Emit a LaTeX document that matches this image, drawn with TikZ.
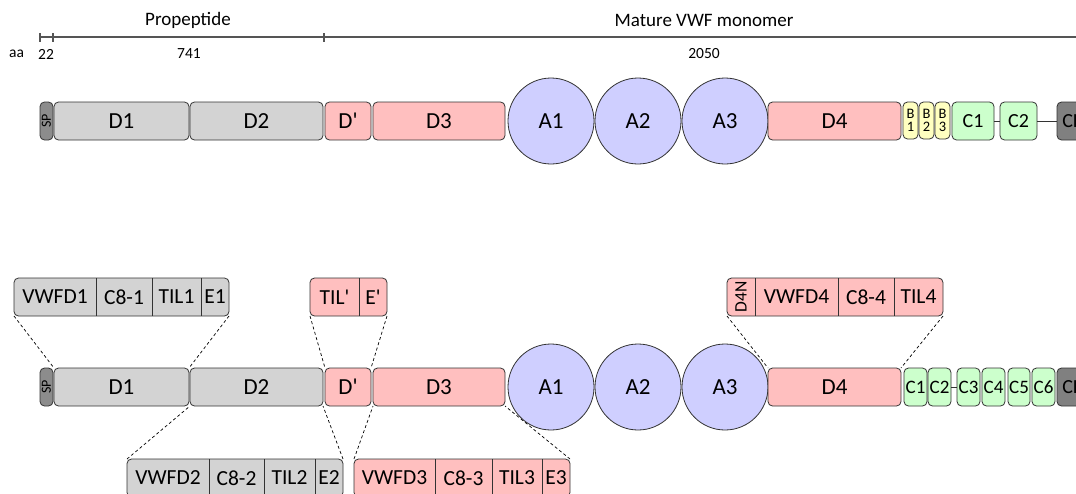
\documentclass[tikz,border=0pt]{standalone}
\usepackage{fontspec}
\setmainfont{Carlito}
\newfontfamily\plainf{Carlito}
\definecolor{grayd}{HTML}{D3D3D3}
\definecolor{pinkd}{HTML}{FFBFBF}
\definecolor{bluea}{HTML}{CFCFFF}
\definecolor{yelb}{HTML}{FFFFC0}
\definecolor{grc}{HTML}{CCFFCC}
\definecolor{spg}{HTML}{8C8C8C}
\definecolor{ckg}{HTML}{808080}
\definecolor{edge}{HTML}{333333}
\definecolor{scaleg}{HTML}{555555}
\tikzset{
  dom/.style={draw=edge, line width=0.8pt, rounded corners=4.5pt, minimum height=38pt,
    inner sep=0pt, outer sep=0pt, font=\fontsize{23}{23}\selectfont},
  adom/.style={draw=edge, line width=0.8pt, circle, fill=bluea, minimum size=86pt,
    inner sep=0pt, outer sep=0pt, font=\fontsize{23}{23}\selectfont},
  cell/.style={minimum height=38pt, inner sep=0pt, outer sep=0pt, font=\fontsize{21.5}{21.5}\selectfont},
  outerbox/.style={draw=edge, line width=0.8pt, rounded corners=4.5pt, minimum height=38pt,
    inner sep=0pt, outer sep=0pt},
  divider/.style={draw=edge, line width=0.8pt},
  conn/.style={line width=0.7pt, dash pattern=on 3pt off 2.5pt},
  link/.style={draw=edge, line width=0.8pt},
  cfont/.style={font=\fontsize{20}{20}\selectfont},
  csmall/.style={font=\fontsize{19}{19}\selectfont},
  bfont/.style={font=\fontsize{14.5}{13}\selectfont, align=center},
  num/.style={font=\fontsize{15.5}{15.5}\selectfont, inner sep=0pt},
  title/.style={font=\fontsize{19}{19}\selectfont, inner sep=0pt},
  scaleline/.style={draw=scaleg, line width=1.1pt}
}
\begin{document}
\begin{tikzpicture}[x=1pt,y=-1pt]
\useasboundingbox (0,0) rectangle (1076,493);
% ---------- scale bar ----------
\coordinate (s0) at (40,37);
\coordinate (s1) at (53,37);
\coordinate (s2) at (324,37);
\coordinate (s3) at (1076,37);
\draw[scaleline] (s0) -- (s3);
\draw[scaleline] ([yshift=-4.5pt]s0) -- ([yshift=4.5pt]s0);
\draw[scaleline] ([yshift=-4.5pt]s1) -- ([yshift=4.5pt]s1);
\draw[scaleline] ([yshift=-4.5pt]s2) -- ([yshift=4.5pt]s2);
\node[title] (tprop) at (188,20) {Propeptide};
\node[title] (tmat) at (704,20) {Mature VWF monomer};
\node[num] (taa) at (16.5,54) {aa};
\node[num] (t22) at (46,54) {22};
\node[num] (t741) at (189,54) {741};
\node[num] (t2050) at (704,54) {2050};
% ---------- top row ----------
\node[dom, fill=spg, minimum width=13pt] (SPa) at (46.5,121) {\rotatebox{90}{\fontsize{14}{14}\selectfont SP}};
\node[dom, fill=grayd, minimum width=135pt] (D1a) at (121.5,121) {D1};
\node[dom, fill=grayd, minimum width=133pt] (D2a) at (256.5,121) {D2};
\node[dom, fill=pinkd, minimum width=46pt] (Dpa) at (348,121) {\plainf D'};
\node[dom, fill=pinkd, minimum width=132pt] (D3a) at (439,121) {D3};
\node[adom] (A1a) at (551,121) {A1};
\node[adom] (A2a) at (638,121) {A2};
\node[adom] (A3a) at (725,121) {A3};
\node[dom, fill=pinkd, minimum width=133pt] (D4a) at (834.5,121) {D4};
\node[dom, fill=yelb, minimum width=15pt, minimum height=37pt, bfont] (B1a) at (910.5,120.5) {B\\1};
\node[dom, fill=yelb, minimum width=15pt, minimum height=37pt, bfont] (B2a) at (926.5,120.5) {B\\2};
\node[dom, fill=yelb, minimum width=15pt, minimum height=37pt, bfont] (B3a) at (942.5,120.5) {B\\3};
\node[dom, fill=grc, minimum width=42pt, cfont] (C1a) at (973,121) {C1};
\node[dom, fill=grc, minimum width=37pt, cfont] (C2a) at (1018.5,121) {C2};
\node[dom, fill=ckg, minimum width=32pt, cfont] (CKa) at (1073,121) {CK};
\draw[link] (C1a.east) -- (C2a.west);
\draw[link] (C2a.east) -- (CKa.west);
% ---------- bottom row ----------
\node[dom, fill=spg, minimum width=13pt] (SPb) at (46.5,387) {\rotatebox{90}{\fontsize{14}{14}\selectfont SP}};
\node[dom, fill=grayd, minimum width=135pt] (D1b) at (121.5,387) {D1};
\node[dom, fill=grayd, minimum width=133pt] (D2b) at (256.5,387) {D2};
\node[dom, fill=pinkd, minimum width=46pt] (Dpb) at (348,387) {\plainf D'};
\node[dom, fill=pinkd, minimum width=132pt] (D3b) at (439,387) {D3};
\node[adom] (A1b) at (551,387) {A1};
\node[adom] (A2b) at (638,387) {A2};
\node[adom] (A3b) at (725,387) {A3};
\node[dom, fill=pinkd, minimum width=133pt] (D4b) at (834.5,387) {D4};
\node[dom, fill=grc, minimum width=23pt, csmall] (C1b) at (915.5,387) {C1};
\node[dom, fill=grc, minimum width=23pt, csmall] (C2b) at (939.5,387) {C2};
\node[dom, fill=grc, minimum width=23pt, csmall] (C3b) at (968.5,387) {C3};
\node[dom, fill=grc, minimum width=23pt, csmall] (C4b) at (993.5,387) {C4};
\node[dom, fill=grc, minimum width=22pt, csmall] (C5b) at (1019,387) {C5};
\node[dom, fill=grc, minimum width=23pt, csmall] (C6b) at (1043.5,387) {C6};
\node[dom, fill=ckg, minimum width=32pt, cfont] (CKb) at (1073,387) {CK};
\draw[link] (C2b.east) -- (C3b.west);
% ---------- detail box D1 ----------
\node[outerbox, fill=grayd, minimum width=215pt] (bx1) at (121.5,297) {};
\node[cell, minimum width=82pt] (c11) at (55,297) {VWFD1};
\node[cell, minimum width=56pt] (c12) at (124,297) {C8-1};
\node[cell, minimum width=49pt] (c13) at (176.5,297) {TIL1};
\node[cell, minimum width=28pt] (c14) at (215,297) {E1};
\draw[divider] (c11.north east) -- (c11.south east);
\draw[divider] (c12.north east) -- (c12.south east);
\draw[divider] (c13.north east) -- (c13.south east);
% ---------- detail box D' ----------
\node[outerbox, fill=pinkd, minimum width=77pt] (bxp) at (348.5,297) {};
\node[cell, minimum width=49pt] (cp1) at (334.5,297) {\plainf TIL'};
\node[cell, minimum width=28pt] (cp2) at (373,297) {\plainf E'};
\draw[divider] (cp1.north east) -- (cp1.south east);
% ---------- detail box D4 ----------
\node[outerbox, fill=pinkd, minimum width=216pt] (bx4) at (835,297) {};
\node[cell, minimum width=28pt] (c41) at (741,297) {\rotatebox{90}{\fontsize{17.5}{17.5}\selectfont D4N}};
\node[cell, minimum width=83pt] (c42) at (796.5,297) {VWFD4};
\node[cell, minimum width=56pt] (c43) at (866,297) {C8-4};
\node[cell, minimum width=49pt] (c44) at (918.5,297) {TIL4};
\draw[divider] (c41.north east) -- (c41.south east);
\draw[divider] (c42.north east) -- (c42.south east);
\draw[divider] (c43.north east) -- (c43.south east);
% ---------- detail box D2 ----------
\node[outerbox, fill=grayd, minimum width=216pt] (bx2) at (235,478) {};
\node[cell, minimum width=82pt] (c21) at (168,478) {VWFD2};
\node[cell, minimum width=55pt] (c22) at (236.5,478) {C8-2};
\node[cell, minimum width=51pt] (c23) at (289.5,478) {TIL2};
\node[cell, minimum width=28pt] (c24) at (329,478) {E2};
\draw[divider] (c21.north east) -- (c21.south east);
\draw[divider] (c22.north east) -- (c22.south east);
\draw[divider] (c23.north east) -- (c23.south east);
% ---------- detail box D3 ----------
\node[outerbox, fill=pinkd, minimum width=216pt] (bx3) at (462,478) {};
\node[cell, minimum width=81pt] (c31) at (394.5,478) {VWFD3};
\node[cell, minimum width=57pt] (c32) at (463.5,478) {C8-3};
\node[cell, minimum width=50pt] (c33) at (517,478) {TIL3};
\node[cell, minimum width=28pt] (c34) at (556,478) {E3};
\draw[divider] (c31.north east) -- (c31.south east);
\draw[divider] (c32.north east) -- (c32.south east);
\draw[divider] (c33.north east) -- (c33.south east);
% ---------- dashed connectors ----------
\draw[conn] (bx1.south west) -- (D1b.north west);
\draw[conn] (bx1.south east) -- (D1b.north east);
\draw[conn] (bxp.south west) -- (Dpb.north west);
\draw[conn] (bxp.south east) -- (Dpb.north east);
\draw[conn] (bx4.south west) -- (D4b.north west);
\draw[conn] (bx4.south east) -- (D4b.north east);
\draw[conn] (bx2.north west) -- (D2b.south west);
\draw[conn] (bx2.north east) -- (D2b.south east);
\draw[conn] (bx3.north west) -- (D3b.south west);
\draw[conn] (bx3.north east) -- (D3b.south east);
\end{tikzpicture}
\end{document}
